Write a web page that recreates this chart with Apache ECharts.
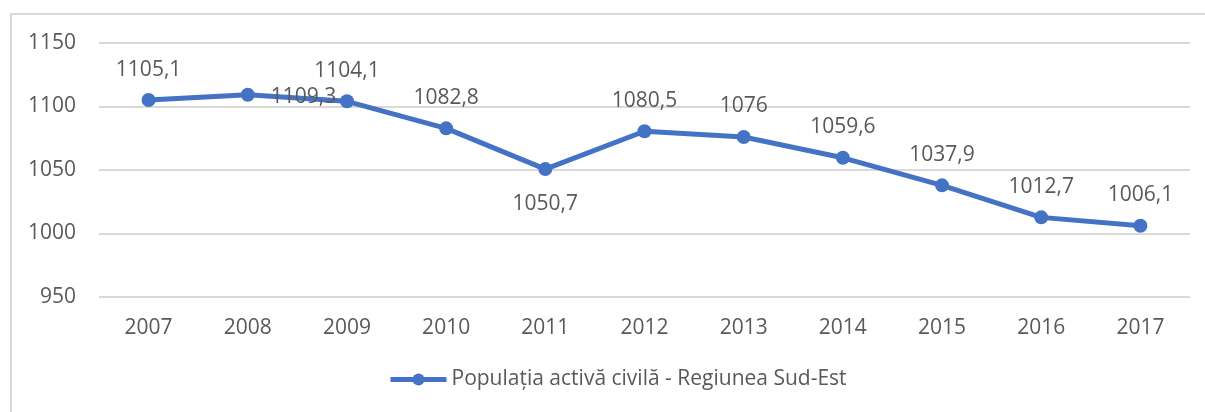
<!DOCTYPE html>
<html lang="ro">
<head>
    <meta charset="UTF-8">
    <title>Populatia activa civila - Regiunea Sud-Est</title>
    <style>
        * {
            margin: 0;
            padding: 0;
        }

        body {
            background-color: #fff;
            width: 1205px;
            height: 412px;
            overflow: hidden;
            position: relative;
        }

        #frame {
            position: absolute;
            left: 10px;
            top: 13px;
            width: 1210px;
            height: 420px;
            border: 2px solid #d9d9d9;
        }

        #chart {
            position: absolute;
            left: 0;
            top: 0;
            width: 1205px;
            height: 412px;
        }
    </style>
</head>
<body>
<div id="frame"></div>
<div id="chart"></div>
<script src="https://cdn.jsdelivr.net/npm/echarts@6/dist/echarts.min.js"></script>
<script>
    var years = ['2007', '2008', '2009', '2010', '2011', '2012', '2013', '2014', '2015', '2016', '2017'];
    var values = [1105.1, 1109.3, 1104.1, 1082.8, 1050.7, 1080.5, 1076, 1059.6, 1037.9, 1012.7, 1006.1];
    var seriesName = 'Populația activă civilă - Regiunea Sud-Est';
    var yTicks = [950, 1000, 1050, 1100, 1150];

    var textColor = '#595959';
    var fontFamily = '"Open Sans", "Noto Sans", sans-serif';

    var seriesData = values.map(function (v, i) {
        var item = {value: v};
        if (i === 1) {
            item.label = {position: 'right', distance: 16, offset: [0, 2]};
        } else if (i === 4) {
            item.label = {position: 'bottom', distance: 17};
        }
        return item;
    });

    var chart = echarts.init(document.getElementById('chart'));
    chart.setOption({
        backgroundColor: 'transparent',
        textStyle: {fontFamily: fontFamily},
        grid: {
            left: 99,
            right: 15,
            top: 43,
            bottom: 115
        },
        legend: {
            data: [seriesName],
            bottom: 17,
            left: 383,
            itemWidth: 56,
            itemHeight: 15,
            itemGap: 10,
            lineStyle: {width: 5},
            textStyle: {
                color: textColor,
                fontSize: 21,
                fontFamily: fontFamily
            }
        },
        xAxis: {
            type: 'category',
            data: years,
            boundaryGap: true,
            axisLine: {show: false},
            axisTick: {show: false},
            axisLabel: {
                color: textColor,
                fontSize: 21,
                margin: 21
            }
        },
        yAxis: {
            type: 'value',
            min: yTicks[0],
            max: yTicks[yTicks.length - 1],
            interval: 50,
            axisLine: {show: false},
            axisTick: {show: false},
            axisLabel: {
                color: textColor,
                fontSize: 21,
                margin: 23,
                formatter: function (v) {
                    return String(v);
                }
            },
            splitLine: {
                lineStyle: {color: '#d9d9d9', width: 2}
            }
        },
        series: [
            {
                name: seriesName,
                type: 'line',
                data: seriesData,
                symbol: 'circle',
                symbolSize: 14,
                color: '#4472c4',
                lineStyle: {width: 5, color: '#4472c4'},
                itemStyle: {color: '#4472c4'},
                label: {
                    show: true,
                    position: 'top',
                    distance: 13,
                    color: textColor,
                    fontSize: 21,
                    formatter: function (p) {
                        return String(p.value).replace('.', ',');
                    }
                },
                emphasis: {disabled: true},
                animation: false
            }
        ]
    });
</script>
</body>
</html>
